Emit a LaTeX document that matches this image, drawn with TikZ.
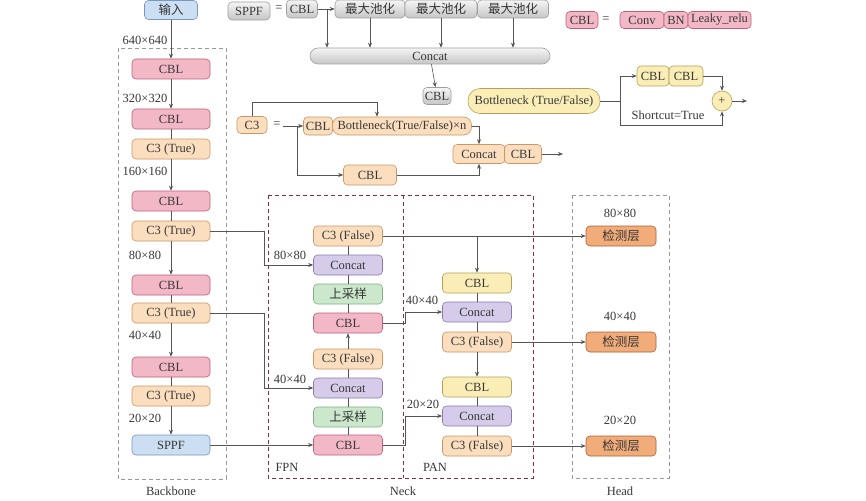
\documentclass[tikz,border=0pt]{standalone}
\usepackage{fontspec}
\setmainfont{Liberation Serif}
\newfontfamily\cjk{Noto Sans CJK SC}
\usepackage{tikz}
\usetikzlibrary{arrows.meta}
\definecolor{cblfill}{RGB}{243, 184, 198}
\definecolor{cbldraw}{RGB}{190, 95, 120}
\definecolor{c3fill}{RGB}{250, 222, 190}
\definecolor{c3draw}{RGB}{205, 150, 100}
\definecolor{catfill}{RGB}{214, 204, 234}
\definecolor{catdraw}{RGB}{140, 120, 175}
\definecolor{upfill}{RGB}{204, 232, 204}
\definecolor{updraw}{RGB}{130, 175, 130}
\definecolor{yfill}{RGB}{250, 238, 182}
\definecolor{ydraw}{RGB}{180, 160, 90}
\definecolor{bfill}{RGB}{204, 222, 242}
\definecolor{bdraw}{RGB}{120, 150, 195}
\definecolor{detfill}{RGB}{242, 172, 122}
\definecolor{detdraw}{RGB}{165, 100, 60}
\definecolor{linegray}{RGB}{85, 85, 85}
\definecolor{neckred}{RGB}{150, 40, 60}
\definecolor{txt}{RGB}{55, 55, 55}

\begin{document}
\begin{tikzpicture}[x=1pt, y=-1pt, >={Stealth[length=5pt,width=4pt]},
    font=\fontsize{12.5}{14}\selectfont,
    box/.style={draw, rounded corners=4pt, inner sep=0pt, minimum height=20pt, text=txt, line width=0.6pt},
    cblnode/.style={box, fill=cblfill, draw=cbldraw},
    c3node/.style={box, fill=c3fill, draw=c3draw},
    catnode/.style={box, fill=catfill, draw=catdraw},
    upnode/.style={box, fill=upfill, draw=updraw},
    ycbl/.style={box, fill=yfill, draw=ydraw},
    bluenode/.style={box, fill=bfill, draw=bdraw},
    detnode/.style={box, fill=detfill, draw=detdraw, minimum width=70pt},
    graynode/.style={box, top color=gray!8, bottom color=gray!45, draw=gray!75, minimum height=18pt},
    conn/.style={draw=linegray, line width=0.6pt},
    lbl/.style={text=txt, inner sep=1pt},
    frame/.style={dash pattern=on 4pt off 3pt, line width=0.7pt}]
    \useasboundingbox[fill=white] (0,0) rectangle (866,500);

    % SPPF legend
    \node[graynode, minimum width=42pt] (ssppf) at (249,11) {SPPF};
    \node[lbl] (seq) at (279,9) {=};
    \node[graynode, minimum width=31pt] (scbl) at (302,9) {CBL};
    \node[graynode, minimum width=70pt] (sp1) at (370,9) {\cjk 最大池化};
    \node[graynode, minimum width=72pt] (sp2) at (441,9) {\cjk 最大池化};
    \node[graynode, minimum width=71pt] (sp3) at (513,9) {\cjk 最大池化};
    \node[graynode, minimum width=240pt, minimum height=16pt, rounded corners=8pt] (scat) at (430,56) {Concat};
    \node[graynode, minimum width=28pt, minimum height=17pt] (scbl2) at (437,96) {CBL};
    \coordinate (sb) at (327,9);
    \draw[conn, ->] (scbl) -- (sp1);
    \draw[conn, ->] (sb) -- (sb |- scat.north);
    \draw[conn, ->] (sp1.south) -- (sp1.south |- scat.north);
    \draw[conn, ->] (sp2.south) -- (sp2.south |- scat.north);
    \draw[conn, ->] (sp3.south) -- (sp3.south |- scat.north);
    \draw[conn, ->] (scat) -- (scbl2);

    % CBL legend
    \node[cblnode, minimum width=32pt, minimum height=17pt] (lcbl) at (582,20) {CBL};
    \node[lbl] (leq) at (606,20) {=};
    \node[cblnode, minimum width=44pt, minimum height=17pt] (lconv) at (642,20) {Conv};
    \node[cblnode, minimum width=24pt, minimum height=17pt] (lbn) at (676,20) {BN};
    \node[cblnode, minimum width=63pt, minimum height=17pt] (lrelu) at (719.5,20) {Leaky\_relu};

    % Bottleneck legend
    \node[ycbl, minimum width=132pt, minimum height=25pt, rounded corners=12pt] (bneck) at (534,101) {Bottleneck (True/False)};
    \node[ycbl, minimum width=32pt] (bcbla) at (653,76) {CBL};
    \node[ycbl, minimum width=34pt] (bcblb) at (686,76) {CBL};
    \node[circle, draw=ydraw, fill=yfill, minimum size=20pt, inner sep=0pt, text=txt, line width=0.6pt] (plus) at (722,101) {+};
    \coordinate (bs) at (620,101);
    \coordinate (bb) at (620,125);
    \draw[conn] (bneck.east) -- (bs);
    \draw[conn, ->] (bs) |- (bcbla.west);
    \draw[conn, ->] (bcblb.east) -| (plus.north);
    \draw[conn, ->] (bs) -- (bb) -| (plus.south);
    \node[lbl] (short) at (668,115) {Shortcut=True};
    \coordinate (bout) at (747,101);
    \draw[conn, ->] (plus.east) -- (bout);

    % C3 legend
    \node[c3node, minimum width=30pt, minimum height=17pt] (c3l) at (252,125) {C3};
    \node[lbl] (ceq) at (277,125) {=};
    \node[c3node, minimum width=29pt, minimum height=18pt] (c3cbl) at (318,126) {CBL};
    \node[c3node, minimum width=139pt, minimum height=18pt, rounded corners=8pt] (c3bn) at (402,126) {Bottleneck(True/False)×n};
    \node[c3node, minimum width=52pt, minimum height=19pt] (c3cat) at (479,154) {Concat};
    \node[c3node, minimum width=37pt, minimum height=19pt] (c3cbl2) at (523,154) {CBL};
    \node[c3node, minimum width=53pt] (c3cbl3) at (370,175) {CBL};
    \coordinate (cs) at (283,126);
    \coordinate (cb) at (297,126);
    \coordinate (ct) at (377,102);
    \coordinate (cout) at (563,154);
    \draw[conn, ->] (cs) -- (c3cbl.west);
    \draw[conn, ->] (cb) |- (c3cbl3.west);
    \draw[conn, ->] (c3l.north) |- (ct) -- (ct |- c3bn.north);
    \draw[conn, ->] (c3bn.east) -| (c3cat.north);
    \draw[conn, ->] (c3cbl3.east) -| (c3cat.south);
    \draw[conn, ->] (c3cbl2.east) -- (cout);

    % Backbone
    \draw[frame, gray!80] (118,48) rectangle (226,479);
    \node[lbl] (tbb) at (171,491) {Backbone};
    \node[bluenode, minimum width=53pt, minimum height=19pt] (input) at (171,10) {\cjk 输入};
    \node[cblnode, minimum width=78pt] (bcbl1) at (171,69) {CBL};
    \node[cblnode, minimum width=78pt] (bcbl2) at (171,119) {CBL};
    \node[c3node, minimum width=78pt] (bc31) at (171,149) {C3 (True)};
    \node[cblnode, minimum width=78pt] (bcbl3) at (171,201) {CBL};
    \node[c3node, minimum width=78pt] (bc32) at (171,231) {C3 (True)};
    \node[cblnode, minimum width=78pt] (bcbl4) at (171,285) {CBL};
    \node[c3node, minimum width=78pt] (bc33) at (171,313) {C3 (True)};
    \node[cblnode, minimum width=78pt] (bcbl5) at (171,367) {CBL};
    \node[c3node, minimum width=78pt] (bc34) at (171,396) {C3 (True)};
    \node[bluenode, minimum width=78pt] (bsppf) at (171,445) {SPPF};
    \draw[conn, ->] (input) -- (bcbl1);
    \draw[conn, ->] (bcbl1) -- (bcbl2);
    \draw[conn] (bcbl2) -- (bc31);
    \draw[conn, ->] (bc31) -- (bcbl3);
    \draw[conn] (bcbl3) -- (bc32);
    \draw[conn, ->] (bc32) -- (bcbl4);
    \draw[conn] (bcbl4) -- (bc33);
    \draw[conn, ->] (bc33) -- (bcbl5);
    \draw[conn] (bcbl5) -- (bc34);
    \draw[conn, ->] (bc34) -- (bsppf);
    \node[lbl] (s640) at (145,40) {640×640};
    \node[lbl] (s320) at (145,98) {320×320};
    \node[lbl] (s160) at (145,171) {160×160};
    \node[lbl] (s80) at (145,255) {80×80};
    \node[lbl] (s40) at (145,335) {40×40};
    \node[lbl] (s20) at (145,418) {20×20};

    % Neck
    \draw[frame, neckred] (268,195) rectangle (533,478);
    \draw[frame, neckred] (403,195) -- (403,478);
    \node[lbl] (tneck) at (403,491) {Neck};
    \node[lbl] (tfpn) at (287,467) {FPN};
    \node[lbl] (tpan) at (435,467) {PAN};

    % FPN
    \node[c3node, minimum width=69pt] (fc3a) at (348,236) {C3 (False)};
    \node[catnode, minimum width=69pt] (fcat1) at (348,265) {Concat};
    \node[upnode, minimum width=69pt] (fup1) at (348,294) {\cjk 上采样};
    \node[cblnode, minimum width=69pt] (fcbl1) at (348,323) {CBL};
    \node[c3node, minimum width=69pt] (fc3b) at (348,359) {C3 (False)};
    \node[catnode, minimum width=69pt] (fcat2) at (348,388) {Concat};
    \node[upnode, minimum width=69pt] (fup2) at (348,417) {\cjk 上采样};
    \node[cblnode, minimum width=69pt] (fcbl2) at (348,445) {CBL};
    \draw[conn] (fcbl2) -- (fup2) -- (fcat2) -- (fc3b);
    \draw[conn, ->] (fc3b) -- (fcbl1);
    \draw[conn] (fcbl1) -- (fup1) -- (fcat1) -- (fc3a);
    \coordinate (j80) at (264,231);
    \coordinate (j40) at (264,313);
    \draw[conn, ->] (bc32.east) -- (j80) |- (fcat1.west);
    \draw[conn, ->] (bc33.east) -- (j40) |- (fcat2.west);
    \draw[conn, ->] (bsppf) -- (fcbl2);
    \node[lbl] (n80) at (290,255) {80×80};
    \node[lbl] (n40) at (290,379) {40×40};

    % PAN
    \node[ycbl, minimum width=69pt] (pcbl1) at (477,283) {CBL};
    \node[catnode, minimum width=69pt] (pcat1) at (477,312) {Concat};
    \node[c3node, minimum width=69pt] (pc3a) at (477,342) {C3 (False)};
    \node[ycbl, minimum width=69pt] (pcbl2) at (477,387) {CBL};
    \node[catnode, minimum width=69pt] (pcat2) at (477,416) {Concat};
    \node[c3node, minimum width=69pt] (pc3b) at (477,446) {C3 (False)};
    \draw[conn] (pcbl1) -- (pcat1) -- (pc3a);
    \draw[conn] (pcbl2) -- (pcat2) -- (pc3b);
    \draw[conn, ->] (pcbl1 |- fc3a) -- (pcbl1);
    \draw[conn, ->] (pc3a.south) -- (pcbl2);
    \coordinate (k40) at (405,323);
    \coordinate (k20) at (405,445);
    \draw[conn, ->] (fcbl1.east) -- (k40) |- (pcat1.west);
    \draw[conn, ->] (fcbl2.east) -- (k20) |- (pcat2.west);
    \node[lbl] (p40) at (422,300) {40×40};
    \node[lbl] (p20) at (423,404) {20×20};

    % Head
    \draw[frame, gray!80] (572,195) rectangle (669,478);
    \node[lbl] (thead) at (620,491) {Head};
    \node[detnode] (h1) at (621,236) {\cjk 检测层};
    \node[detnode] (h2) at (621,342) {\cjk 检测层};
    \node[detnode] (h3) at (621,446) {\cjk 检测层};
    \node[lbl] (h80) at (620,213) {80×80};
    \node[lbl] (h40) at (620,316) {40×40};
    \node[lbl] (h20) at (620,420) {20×20};
    \draw[conn, ->] (fc3a) -- (h1);
    \draw[conn, ->] (pc3a) -- (h2);
    \draw[conn, ->] (pc3b) -- (h3);
\end{tikzpicture}
\end{document}
